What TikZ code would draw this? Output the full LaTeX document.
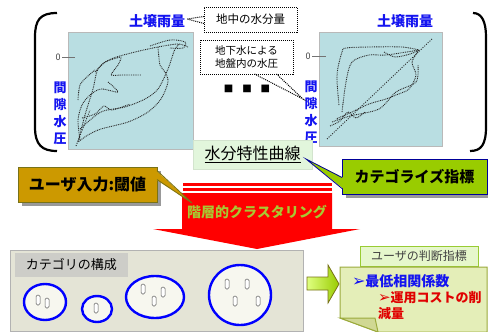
\documentclass[tikz,border=0pt]{standalone}
\usepackage{fontspec}
\setmainfont{Noto Sans CJK JP}
\newfontfamily\dvfont{DejaVu Sans}
\usetikzlibrary{shapes.geometric}
\definecolor{plotbg}{HTML}{B9DEE2}
\definecolor{txtblue}{HTML}{1414F0}
\definecolor{goldc}{HTML}{CC9900}
\definecolor{olivec}{HTML}{99CC00}
\definecolor{arrred}{HTML}{FF0000}
\definecolor{ygreen}{HTML}{A8C832}
\definecolor{panelc}{HTML}{E4E4D6}
\definecolor{titlegray}{HTML}{CDCDC8}
\definecolor{ellfill}{HTML}{F7F7EF}
\definecolor{lightgreen}{HTML}{E2F6DC}
\definecolor{notefill}{HTML}{E4EEB8}
\definecolor{noteborder}{HTML}{9BAA3C}
\definecolor{judgefill}{HTML}{E6F7CC}
\definecolor{judgeborder}{HTML}{99CC33}
\definecolor{scrib}{HTML}{2A2A2A}
\definecolor{noteRed}{HTML}{E00000}
\tikzset{
  plotbox/.style={draw=gray!55, fill=plotbg, anchor=north west},
  axislabel/.style={font=\bfseries\fontsize{14}{14}\selectfont, text=txtblue},
  vlabel/.style={align=center, font=\bfseries\fontsize{13}{17}\selectfont, text=txtblue},
  zerolabel/.style={font=\fontsize{9}{9}\selectfont, text=black!75},
  dotbox/.style={draw, dash pattern=on 1pt off 1pt, line width=1pt, align=center},
  dotline/.style={dash pattern=on 1pt off 1pt, line width=1pt},
  scribble/.style={dash pattern=on 0.9pt off 0.9pt, line width=0.9pt, scrib},
  diagline/.style={dash pattern=on 1pt off 1.4pt, line width=0.9pt, scrib},
  shadowbox/.style={fill=black!40},
  cyl/.style={draw=black!65, fill=white, minimum width=4pt, minimum height=10pt, rounded corners=1.5pt, line width=0.5pt},
  catell/.style={ellipse, draw=blue, line width=2.4pt, fill=ellfill},
}
\begin{document}
\begin{tikzpicture}[x=1pt,y=-1pt, every node/.style={inner sep=0pt, outer sep=0pt}]
\useasboundingbox (0,0) rectangle (488,332);
\fill[white] (0,0) rectangle (488,332);

% brackets
\draw[line width=2.2pt] (57,13) .. controls (40,13) and (35,20) .. (35,37) -- (35,127) .. controls (35,145) and (42,151) .. (57,151);
\draw[line width=2.2pt] (473,13) .. controls (482,13) and (486,22) .. (486,37) -- (486,127) .. controls (486,145) and (481,151) .. (470,151);

% plots
\node[plotbox, minimum width=125pt, minimum height=117pt] (plotL) at (68,32) {};
\node[plotbox, minimum width=123pt, minimum height=114pt] (plotR) at (319,32) {};

% left scribbles
\draw[scribble] plot[smooth, tension=0.5] coordinates {(78,142) (85,115) (93,89) (98,69) (111,59) (135,52) (158,47) (178,44) (188,47)};
\draw[scribble] plot[smooth, tension=0.5] coordinates {(80,129) (101,112) (125,107) (145,99) (158,89) (168,69) (175,49) (180,44)};
\draw[scribble] plot[smooth, tension=0.5] coordinates {(158,47) (160,65) (165,72) (168,82) (161,99) (148,112) (128,122) (101,129) (88,135) (78,142)};
\draw[scribble] plot[smooth, tension=0.3] coordinates {(95,72) (105,62) (121,57) (118,65) (111,75) (123,75) (141,75)};
\draw[scribble] plot[smooth, tension=0.5] coordinates {(108,82) (118,92) (101,89) (90,95) (82,105) (78,120) (80,140)};
\draw[scribble] plot[smooth, tension=0.5] coordinates {(150,46) (170,40) (185,42) (183,48) (170,48)};
\draw[scribble] plot[smooth, tension=0.5] coordinates {(78,100) (80,85) (88,76) (95,70)};
\draw[scribble] plot[smooth, tension=0.5] coordinates {(82,118) (95,114) (104,106) (112,110) (130,104)};
\draw[diagline] (76,146) -- (90,110);

% right scribbles
\draw[diagline] (327,139) -- (432,39);
\draw[scribble] plot[smooth, tension=0.5] coordinates {(339,105) (337,75) (342,52) (346,48) (369,47) (402,47) (419,50)};
\draw[scribble] plot[smooth, tension=0.5] coordinates {(342,112) (346,82) (352,62) (369,55) (386,55) (419,50)};
\draw[scribble] plot[smooth, tension=0.5] coordinates {(419,50) (412,62) (416,75) (409,89) (396,95) (386,99) (369,104) (352,112) (336,119)};
\draw[scribble] plot[smooth, tension=0.5] coordinates {(332,122) (350,116) (379,109) (396,92) (416,82) (418,65)};
\draw[scribble] plot[smooth, tension=0.5] coordinates {(330,126) (340,121) (348,112) (356,118) (365,112)};
\draw[scribble] plot[smooth, tension=0.5] coordinates {(384,52) (395,57) (410,54) (419,50)};

% axis labels
\node[axislabel] (rainL) at (157,21) {土壌雨量};
\node[axislabel] (rainR) at (405,21) {土壌雨量};
\node[vlabel] (pwL) at (60,113) {間\\隙\\水\\圧};
\node[vlabel] (pwR) at (311,112) {間\\隙\\水\\圧};
\node[zerolabel] (zeroL) at (58,57) {0};
\node[zerolabel] (zeroR) at (308,56) {0};
\coordinate (tickLe) at (75,57);
\coordinate (tickRe) at (326,56);
\draw[black!55, line width=0.6pt] ([xshift=2pt]zeroL.east) -- (tickLe);
\draw[black!55, line width=0.6pt] ([xshift=2pt]zeroR.east) -- (tickRe);

% callouts
\node[dotbox, minimum width=93pt, minimum height=25pt, font=\fontsize{11.5}{12}\selectfont] (moist) at (250.5,19.5) {地中の水分量};
\coordinate (moistTip) at (187,19);
\draw[dotline] ([yshift=-4pt]moist.west) -- (moistTip) -- ([yshift=3pt]moist.west);
\node[dotbox, minimum width=93pt, minimum height=34pt, font=\fontsize{10.5}{12.5}\selectfont] (gw) at (246.5,57) {地下水による\\地盤内の水圧};
\coordinate (gwTip) at (303,99);
\draw[dotline] ([xshift=8pt]gw.south) -- (gwTip) -- ([xshift=30pt]gw.south);
\node[font=\dvfont\fontsize{10}{10}\selectfont] (dots) at (247,89) {■\hspace{9pt}■\hspace{9pt}■};

% water characteristic curve
\node[fill=lightgreen, draw=lightgreen!85!gray, minimum width=119pt, minimum height=29pt, font=\fontsize{16}{16}\selectfont] (curve) at (252.5,154.5) {\underline{水分特性曲線}};

% red arrow
\fill[arrred] (183,182.5) rectangle (332,185.5);
\fill[arrred] (183,188) rectangle (332,191);
\fill[arrred] (182,193) -- (332,193) -- (332,229) -- (360,229) -- (257,249) -- (153,229) -- (182,229) -- cycle;
\node[font=\bfseries\fontsize{14}{14}\selectfont, text=ygreen] (clus) at (257,212) {階層的クラスタリング};

% categorize index
\fill[shadowbox] (346,163) rectangle (491,198);
\node[fill=olivec, draw=blue!60!black, line width=0.8pt, minimum width=145pt, minimum height=35pt, font=\bfseries\fontsize{15}{15}\selectfont] (cat) at (414.5,176.5) {カテゴライズ指標};
\coordinate (catTip) at (306,159);
\fill[olivec] ([xshift=1pt,yshift=-12pt]cat.west) -- (catTip) -- ([xshift=1pt,yshift=-1pt]cat.west) -- cycle;
\draw[blue!60!black, line width=0.8pt] ([yshift=-12pt]cat.west) -- (catTip) -- ([yshift=-1pt]cat.west);

% user input
\fill[shadowbox] (22,171) rectangle (161,206);
\node[fill=goldc, draw=olive!80!black, line width=0.8pt, minimum width=139pt, minimum height=35pt, font=\bfseries\fontsize{16}{16}\selectfont] (user) at (87.5,184.5) {ユーザ入力:閾値};
\coordinate (userTip) at (192,203);
\fill[goldc] ([xshift=-1pt,yshift=5pt]user.east) -- (userTip) -- ([xshift=-1pt,yshift=14pt]user.east) -- cycle;
\draw[olive!80!black, line width=0.8pt] ([yshift=5pt]user.east) -- (userTip) -- ([yshift=14pt]user.east);

% bottom panel
\node[fill=panelc, draw=gray!60, minimum width=293pt, minimum height=81pt, anchor=north west] (panelbox) at (10,250) {};
\node[fill=titlegray, minimum width=113pt, minimum height=24pt, anchor=north west, font=\fontsize{13}{13}\selectfont] (ptitle) at (15,253) {カテゴリの構成};
\node[catell, minimum width=42pt, minimum height=36pt] (e1) at (45,302) {};
\node[catell, minimum width=30pt, minimum height=26pt] (e2) at (97,309) {};
\node[catell, minimum width=58pt, minimum height=42pt] (e3) at (155,297) {};
\node[catell, minimum width=62pt, minimum height=60pt] (e4) at (240,295) {};
\node[cyl] (c1) at (38,300) {};
\node[cyl] (c2) at (47,303) {};
\node[cyl] (c3) at (96,308) {};
\node[cyl] (c4) at (143,289) {};
\node[cyl] (c5) at (154,301) {};
\node[cyl] (c6) at (163,292) {};
\node[cyl] (c7) at (227,284) {};
\node[cyl] (c8) at (247,284) {};
\node[cyl] (c9) at (235,301) {};
\node[cyl] (c10) at (258,301) {};

% green arrow
\shade[left color=green!25!yellow!50, right color=olivec, draw=olive!80!black, line width=0.8pt] (307,277) -- (328,277) -- (328,265) -- (339,284) -- (328,303) -- (328,290) -- (307,290) -- cycle;

% judgement
\node[fill=judgefill, draw=judgeborder, line width=1pt, minimum width=118pt, minimum height=20pt, anchor=north west, font=\fontsize{12}{12}\selectfont, text=black!75] (judge) at (360,246) {ユーザの判断指標};
\fill[notefill, draw=noteborder, line width=1pt] (340,267) -- (487,267) -- (487,332) -- (378,332) -- (340,318) -- cycle;
\fill[notefill!80!olive, draw=noteborder, line width=1pt] (340,318) -- (375,318) -- (378,332) -- cycle;
\node[anchor=west, font=\bfseries\fontsize{14}{14}\selectfont, text=txtblue] (n1) at (352,281) {{\dvfont\mdseries\fontsize{16}{14}\selectfont ➢}最低相関係数};
\node[anchor=west, font=\bfseries\fontsize{13}{13}\selectfont, text=noteRed] (n2) at (378,298) {{\dvfont\mdseries\fontsize{15}{13}\selectfont ➢}運用コストの削};
\node[anchor=west, font=\bfseries\fontsize{13}{13}\selectfont, text=noteRed] (n3) at (378,314) {減量};
\end{tikzpicture}
\end{document}
